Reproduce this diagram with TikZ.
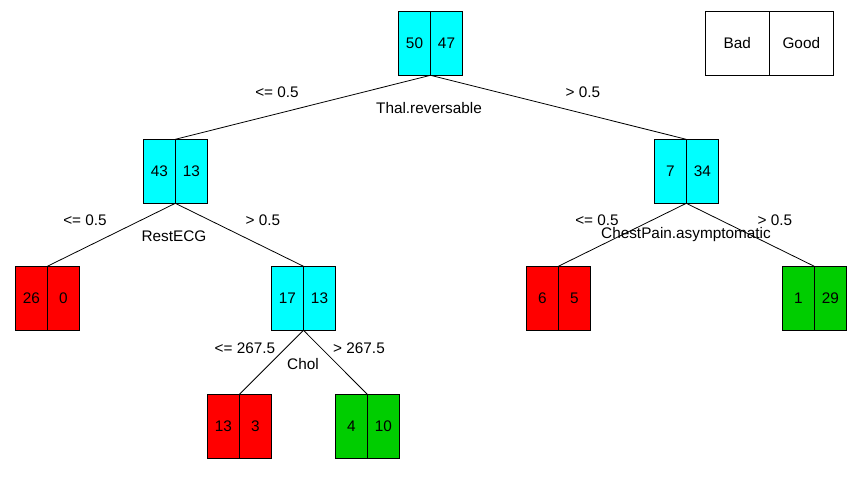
\documentclass[tikz,border=0pt]{standalone}
\usepackage{fontspec}
\setmainfont{Liberation Sans}
\usepackage{xcolor}
\usetikzlibrary{positioning}
\definecolor{splitcyan}{RGB}{0,255,255}
\definecolor{badred}{RGB}{255,0,0}
\definecolor{goodgreen}{RGB}{0,205,0}

\begin{document}
\begin{tikzpicture}[x=0.75pt,y=-0.75pt,
  half/.style={draw,line width=0.75pt,outer sep=0pt,inner sep=0pt,minimum width=24pt,minimum height=48pt,font=\fontsize{11.5}{13}\selectfont},
  keyhalf/.style={half,minimum width=48pt},
  lbl/.style={inner sep=0pt,font=\fontsize{11.5}{13}\selectfont},
  branch/.style={line width=0.6pt}]
\useasboundingbox (0,0) rectangle (868,479);
% Legend
\node[keyhalf] (keyL) at (737.3,43.3) {Bad};
\node[keyhalf,right=0pt of keyL] (keyR) {Good};
% Split nodes
\node[half,fill=splitcyan] (rootL) at (414.5,43.3) {50};
\node[half,fill=splitcyan,right=0pt of rootL] (rootR) {47};
\node[half,fill=splitcyan] (restL) at (159.3,171.3) {43};
\node[half,fill=splitcyan,right=0pt of restL] (restR) {13};
\node[half,fill=splitcyan] (chestL) at (670.3,171.3) {7};
\node[half,fill=splitcyan,right=0pt of chestL] (chestR) {34};
\node[half,fill=splitcyan] (cholL) at (287.5,298.3) {17};
\node[half,fill=splitcyan,right=0pt of cholL] (cholR) {13};
% Leaves
\node[half,fill=badred] (leafaL) at (31.3,298.3) {26};
\node[half,fill=badred,right=0pt of leafaL] (leafaR) {0};
\node[half,fill=badred] (leafbL) at (542.3,298.3) {6};
\node[half,fill=badred,right=0pt of leafbL] (leafbR) {5};
\node[half,fill=goodgreen] (leafcL) at (798.3,298.3) {1};
\node[half,fill=goodgreen,right=0pt of leafcL] (leafcR) {29};
\node[half,fill=badred] (leafdL) at (223.5,426.3) {13};
\node[half,fill=badred,right=0pt of leafdL] (leafdR) {3};
\node[half,fill=goodgreen] (leafeL) at (351.3,426.3) {4};
\node[half,fill=goodgreen,right=0pt of leafeL] (leafeR) {10};
% Branches
\draw[branch] (rootL.south east) -- (restL.north east);
\draw[branch] (rootL.south east) -- (chestL.north east);
\draw[branch] (restL.south east) -- (leafaL.north east);
\draw[branch] (restL.south east) -- (cholL.north east);
\draw[branch] (chestL.south east) -- (leafbL.north east);
\draw[branch] (chestL.south east) -- (leafcL.north east);
\draw[branch] (cholL.south east) -- (leafdL.north east);
\draw[branch] (cholL.south east) -- (leafeL.north east);
% Labels
\node[lbl] (thal) at (429,108) {Thal.reversable};
\node[lbl] (thalle) at (277,92) {<= 0.5};
\node[lbl] (thalgt) at (583,92) {> 0.5};
\node[lbl] (ecg) at (174,236) {RestECG};
\node[lbl] (ecgle) at (85,220) {<= 0.5};
\node[lbl] (ecggt) at (263,220) {> 0.5};
\node[lbl] (pain) at (686,235) {ChestPain.asymptomatic};
\node[lbl] (painle) at (597,220) {<= 0.5};
\node[lbl] (paingt) at (775,220) {> 0.5};
\node[lbl] (chol) at (303,364) {Chol};
\node[lbl] (chole) at (245,348) {<= 267.5};
\node[lbl] (cholgt) at (359,348) {> 267.5};
\end{tikzpicture}
\end{document}
